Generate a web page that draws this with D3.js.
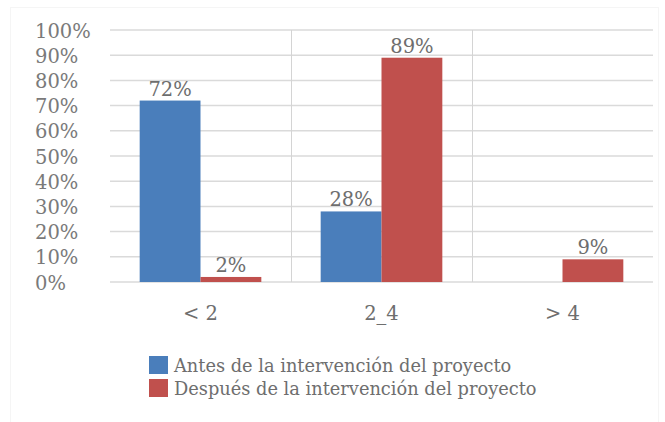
<!DOCTYPE html>
<html><head><meta charset="utf-8">
<script src="https://cdn.jsdelivr.net/npm/d3@7"></script>
<style>body{margin:0;background:#fff}svg{display:block}</style>
</head><body>
<script>
const categories = ["< 2", "2_4", "> 4"];
const seriesNames = ["Antes de la intervención del proyecto", "Después de la intervención del proyecto"];
const antes = [0.72, 0.28, null];
const despues = [0.02, 0.89, 0.09];
const yTicks = [0,0.1,0.2,0.3,0.4,0.5,0.6,0.7,0.8,0.9,1.0];
const colors = ["#4a7ebb", "#c0504d"];

const W = 665, H = 422;
const svg = d3.select("body").append("svg").attr("width", W).attr("height", H);
const font = "DejaVu Serif";

// faint outer frame
svg.append("rect").attr("x",10.5).attr("y",7.5).attr("width",648).attr("height",420)
  .attr("fill","none").attr("stroke","#f5f5f5");

const x = d3.scaleBand().domain(categories).range([110, 653]).paddingInner(0).paddingOuter(0);
const y = d3.scaleLinear().domain([0,1]).range([282, 30]);
const xs = d3.scaleBand().domain([0,1]).range([0, x.bandwidth()]).paddingInner(0).paddingOuter(0.488);

// gridlines
svg.append("g").selectAll("line").data(yTicks).join("line")
  .attr("x1",110).attr("x2",653).attr("y1",d=>y(d)).attr("y2",d=>y(d))
  .attr("stroke","#dadada").attr("stroke-width",1.5);
// category separators
svg.append("g").selectAll("line").data(categories.slice(1)).join("line")
  .attr("x1",d=>x(d)+0.5).attr("x2",d=>x(d)+0.5).attr("y1",y(1)).attr("y2",y(0))
  .attr("stroke","#d4d4d4").attr("stroke-width",1);

// y labels
svg.append("g").selectAll("text").data(yTicks).join("text")
  .attr("x",35).attr("y",d=>y(d)+7.5)
  .attr("font-family",font).attr("font-size",19.5).attr("fill","#7a7a7a")
  .text(d=>d3.format(".0%")(d));

// bars
const data = [];
categories.forEach((c,i)=>{
  [antes[i], despues[i]].forEach((v,s)=>{ if(v!=null) data.push({c, s, v}); });
});
svg.append("g").selectAll("rect").data(data).join("rect")
  .attr("x",d=>x(d.c)+xs(d.s)).attr("width",xs.bandwidth())
  .attr("y",d=>y(d.v)).attr("height",d=>y(0)-y(d.v))
  .attr("fill",d=>colors[d.s]);

// value labels
svg.append("g").selectAll("text").data(data).join("text")
  .attr("x",d=>x(d.c)+xs(d.s)+xs.bandwidth()/2).attr("y",d=>y(d.v)-5)
  .attr("text-anchor","middle").attr("font-family",font).attr("font-size",19.5).attr("fill","#6e6e6e")
  .text(d=>d3.format(".0%")(d.v));

// x axis labels
svg.append("g").selectAll("text").data(categories).join("text")
  .attr("x",d=>x(d)+x.bandwidth()/2).attr("y",320)
  .attr("text-anchor","middle").attr("font-family",font).attr("font-size",19.5).attr("fill","#6e6e6e")
  .text(d=>d);

// legend
const lg = svg.append("g");
seriesNames.forEach((n,i)=>{
  lg.append("rect").attr("x",149).attr("y",356+i*23).attr("width",19).attr("height",18).attr("fill",colors[i]);
  lg.append("text").attr("x",174).attr("y",372+i*23).attr("font-family",font).attr("font-size",17.8)
    .attr("fill","#6e6e6e").text(n);
});
</script>
</body></html>
